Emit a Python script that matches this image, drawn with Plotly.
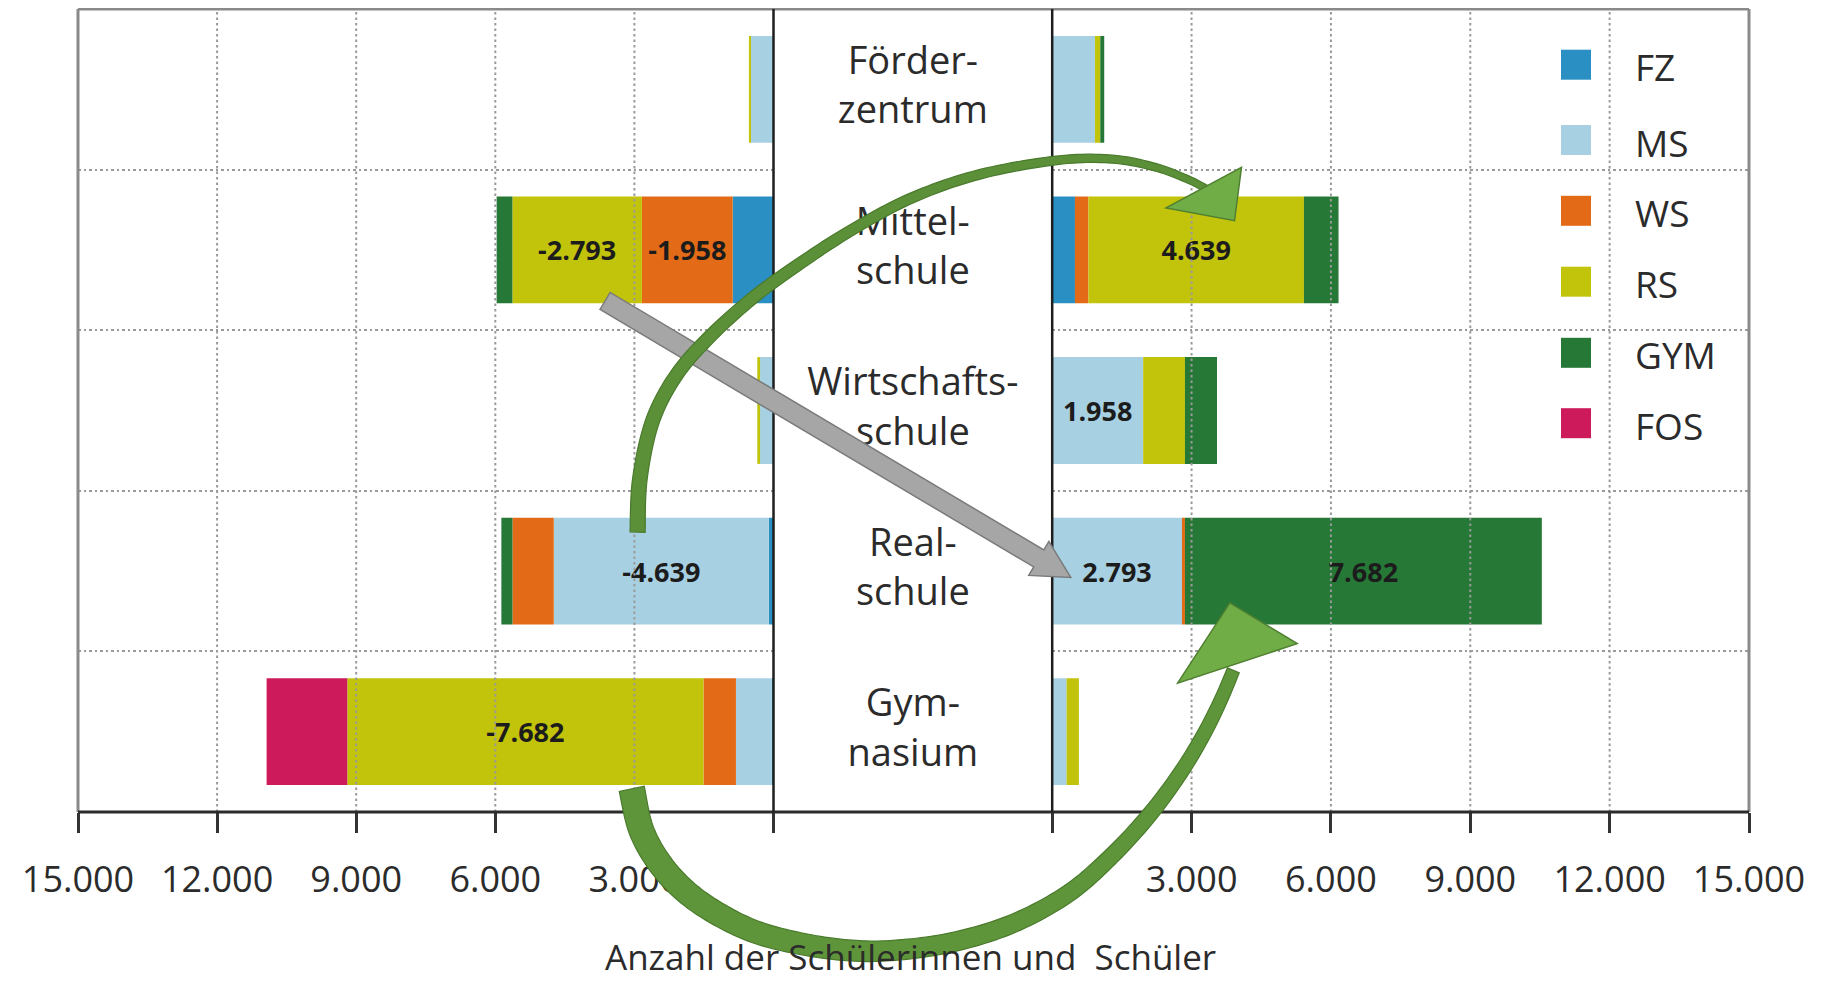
import math
import plotly.graph_objects as go

# ---------------- data ----------------
categories = ["Förderzentrum", "Mittelschule", "Wirtschaftsschule", "Realschule", "Gymnasium"]
category_labels = ["Förder-<br>zentrum", "Mittel-<br>schule", "Wirtschafts-<br>schule", "Real-<br>schule", "Gym-<br>nasium"]
series = ["FZ", "MS", "WS", "RS", "GYM", "FOS"]
series_colors = ["#2a90c4", "#a7d1e2", "#e36a17", "#c2c30b", "#267836", "#cc1a5b"]

# outflows (left panel, negative)
out_FZ = [0, -880, 0, -100, -40]
out_MS = [-500, 0, -290, -4639, -770]
out_WS = [0, -1958, 0, -890, -700]
out_RS = [-30, -2793, -60, 0, -7682]
out_GYM = [0, -340, 0, -240, 0]
out_FOS = [0, 0, 0, 0, -1740]

# inflows (right panel, positive)
in_FZ = [0, 490, 0, 0, 0]
in_MS = [920, 0, 1958, 2793, 310]
in_WS = [0, 290, 0, 65, 0]
in_RS = [115, 4639, 900, 0, 265]
in_GYM = [85, 745, 690, 7682, 0]
in_FOS = [0, 0, 0, 0, 0]

labelled_out = {("Mittelschule", "WS"), ("Mittelschule", "RS"), ("Realschule", "MS"), ("Gymnasium", "RS")}
labelled_in = {("Mittelschule", "RS"), ("Wirtschaftsschule", "MS"), ("Realschule", "MS"), ("Realschule", "GYM")}

tick_vals = [0, 3000, 6000, 9000, 12000, 15000]
tick_text = ["", "3.000", "6.000", "9.000", "12.000", "15.000"]
axis_title = "Anzahl der Schülerinnen und  Schüler"

out_values = [out_FZ, out_MS, out_WS, out_RS, out_GYM, out_FOS]
in_values = [in_FZ, in_MS, in_WS, in_RS, in_GYM, in_FOS]

# ---------------- layout geometry ----------------
BODY = 8                     # default page margin around the plot div
FW, FH = 1821 - 2 * BODY, 991 - 2 * BODY
# plot area in page pixels
P_L, P_R, P_T, P_B = 78, 1749, 9, 812
ML, MT = P_L - BODY, P_T - BODY
MR, MB = FW - (P_R - BODY), FH - (P_B - BODY)
PW, PH = P_R - P_L, P_B - P_T
LEFT_END = (773.5 - P_L) / PW
RIGHT_START = (1052.2 - P_L) / PW
SX, SY = 1821 / 1568, 991 / 853


def to_paper(x, y):
    return ((x - P_L) / PW, 1 - (y - P_T) / PH)


def m2p(pt):
    # shrunk reference picture coordinates -> paper coordinates
    return to_paper(pt[0] * SX, pt[1] * SY)


def de(v):
    return f"{v:,}".replace(",", ".")


FONT = "Open Sans"
TXT = "#2b2b2b"

fig = go.Figure()

for name, col, vals in zip(series, series_colors, out_values):
    fig.add_trace(go.Bar(
        y=categories, x=vals, orientation="h", name=name,
        marker=dict(color=col, line=dict(width=0)),
        text=[de(v) if (c, name) in labelled_out else "" for c, v in zip(categories, vals)],
        textposition="inside", insidetextanchor="middle", textangle=0, constraintext="none",
        textfont=dict(family=FONT, size=27, color="#1c1c1c", weight=700),
        xaxis="x", yaxis="y", showlegend=False, hoverinfo="x+y+name",
    ))

for name, col, vals in zip(series, series_colors, in_values):
    fig.add_trace(go.Bar(
        y=categories, x=vals, orientation="h", name=name,
        marker=dict(color=col, line=dict(width=0)),
        text=[de(v) if (c, name) in labelled_in else "" for c, v in zip(categories, vals)],
        textposition="inside", insidetextanchor="middle", textangle=0, constraintext="none",
        textfont=dict(family=FONT, size=27, color="#1c1c1c", weight=700),
        xaxis="x2", yaxis="y2", showlegend=False, hoverinfo="x+y+name",
    ))

# category names in the middle column
fig.add_trace(go.Scatter(
    x=[0.5] * len(categories), y=categories, mode="text", text=category_labels,
    textposition="middle center", textfont=dict(family=FONT, size=38, color=TXT),
    xaxis="x3", yaxis="y3", showlegend=False, hoverinfo="skip", cliponaxis=False,
))

GRID = "#9a9a9a"
DASH = "2.5px,3px"

xcommon = dict(ticks="outside", ticklen=20, tickwidth=2.5, tickcolor="#333",
               showgrid=False, zeroline=False, showline=False,
               tickfont=dict(family=FONT, size=36, color=TXT), ticklabelstandoff=16)
ycommon = dict(type="category", categoryorder="array", categoryarray=categories,
               autorange="reversed", showticklabels=False, ticks="", tickson="boundaries",
               showgrid=True, gridcolor=GRID, gridwidth=2, griddash=DASH, zeroline=False, showline=False)

fig.update_layout(
    width=FW, height=FH,
    margin=dict(l=ML, r=MR, t=MT, b=MB),
    paper_bgcolor="white", plot_bgcolor="white",
    barmode="relative", bargap=0.335,
    showlegend=False,
    font=dict(family=FONT, color=TXT),
    xaxis=dict(domain=[0, LEFT_END], range=[-15000, 0], anchor="y",
               tickvals=[-v for v in tick_vals], ticktext=tick_text, **xcommon),
    xaxis2=dict(domain=[RIGHT_START, 1], range=[0, 15000], anchor="y2",
                tickvals=tick_vals, ticktext=tick_text, **xcommon),
    xaxis3=dict(domain=[LEFT_END, RIGHT_START], range=[0, 1], anchor="y3", visible=False),
    yaxis=dict(domain=[0, 1], anchor="x", **ycommon),
    yaxis2=dict(domain=[0, 1], anchor="x2", matches="y", **ycommon),
    yaxis3=dict(domain=[0, 1], anchor="x3", matches="y", type="category", categoryorder="array",
                categoryarray=categories, autorange="reversed", visible=False),
)

shapes = []
# vertical dotted gridlines drawn over the bars
for v in tick_vals[1:-1]:
    shapes.append(dict(type="line", xref="x", yref="paper", x0=-v, x1=-v, y0=0, y1=1,
                       line=dict(color=GRID, width=2, dash=DASH), layer="above"))
    shapes.append(dict(type="line", xref="x2", yref="paper", x0=v, x1=v, y0=0, y1=1,
                       line=dict(color=GRID, width=2, dash=DASH), layer="above"))
# frame
FRAME = "#8a8a8a"
shapes += [
    dict(type="line", xref="paper", yref="paper", x0=0, x1=1, y0=1, y1=1, line=dict(color=FRAME, width=3), layer="above"),
    dict(type="line", xref="paper", yref="paper", x0=0, x1=0, y0=0, y1=1, line=dict(color=FRAME, width=3), layer="above"),
    dict(type="line", xref="paper", yref="paper", x0=1, x1=1, y0=0, y1=1, line=dict(color=FRAME, width=3), layer="above"),
    dict(type="line", xref="paper", yref="paper", x0=0, x1=1, y0=0, y1=0, line=dict(color="#2b2b2b", width=3), layer="above"),
    dict(type="line", xref="paper", yref="paper", x0=LEFT_END, x1=LEFT_END, y0=0, y1=1, line=dict(color="#1e1e1e", width=2.5), layer="above"),
    dict(type="line", xref="paper", yref="paper", x0=RIGHT_START, x1=RIGHT_START, y0=0, y1=1, line=dict(color="#1e1e1e", width=2.5), layer="above"),
]


def path_of(points_paper):
    return "M " + " L ".join(f"{x:.5f},{y:.5f}" for x, y in points_paper) + " Z"


def poly_shape(points_main, fill, line_col, lw=1.5):
    return dict(type="path", xref="paper", yref="paper", path=path_of([m2p(p) for p in points_main]),
                fillcolor=fill, line=dict(color=line_col, width=lw), layer="above")


def catmull(pts, steps=12):
    out = []
    n = len(pts)
    for i in range(n - 1):
        p0 = pts[max(i - 1, 0)]
        p1 = pts[i]
        p2 = pts[i + 1]
        p3 = pts[min(i + 2, n - 1)]
        for s in range(steps):
            t = s / steps
            t2, t3 = t * t, t * t * t
            x = 0.5 * ((2 * p1[0]) + (-p0[0] + p2[0]) * t + (2 * p0[0] - 5 * p1[0] + 4 * p2[0] - p3[0]) * t2 + (-p0[0] + 3 * p1[0] - 3 * p2[0] + p3[0]) * t3)
            y = 0.5 * ((2 * p1[1]) + (-p0[1] + p2[1]) * t + (2 * p0[1] - 5 * p1[1] + 4 * p2[1] - p3[1]) * t2 + (-p0[1] + 3 * p1[1] - 3 * p2[1] + p3[1]) * t3)
            out.append((x, y))
    out.append(pts[-1])
    return out


def tapered(pts, w0, w1):
    c = catmull(pts)
    n = len(c)
    L = [0.0]
    for i in range(1, n):
        L.append(L[-1] + math.dist(c[i], c[i - 1]))
    left, right = [], []
    for i in range(n):
        a = c[max(i - 1, 0)]
        b = c[min(i + 1, n - 1)]
        dx, dy = b[0] - a[0], b[1] - a[1]
        d = math.hypot(dx, dy) or 1
        nx, ny = -dy / d, dx / d
        w = (w0 + (w1 - w0) * L[i] / L[-1]) / 2
        left.append((c[i][0] + nx * w, c[i][1] + ny * w))
        right.append((c[i][0] - nx * w, c[i][1] - ny * w))
    return left + right[::-1]


# gray straight arrow (Mittelschule -> Realschule)
T = (521, 259)
TIP = (922, 497)
dx, dy = TIP[0] - T[0], TIP[1] - T[1]
ln = math.hypot(dx, dy)
ux, uy = dx / ln, dy / ln
nx, ny = -uy, ux
hw, hh, hl = 8.5, 17, 32
B = (TIP[0] - ux * hl, TIP[1] - uy * hl)
gray_pts = [
    (T[0] + nx * hw, T[1] + ny * hw), (B[0] + nx * hw, B[1] + ny * hw), (B[0] + nx * hh, B[1] + ny * hh),
    TIP, (B[0] - nx * hh, B[1] - ny * hh), (B[0] - nx * hw, B[1] - ny * hw), (T[0] - nx * hw, T[1] - ny * hw),
]
shapes.append(poly_shape(gray_pts, "#a6a6a6", "#7a7a7a", 1.5))

# green curved arrow: Realschule (left) -> Mittelschule (right)
top_curve = [(549, 458), (551, 412), (562, 362), (583, 322), (613, 288), (650, 255), (690, 226),
             (735, 197), (786, 170), (844, 150), (910, 138), (958, 137), (995, 144), (1022, 154), (1038, 162)]
shapes.append(poly_shape(tapered(top_curve, 13, 6), "#5b8f38", "#4a7a2c", 1.2))
shapes.append(poly_shape([(1004, 179), (1069, 144), (1063, 190)], "#70ad47", "#4f7f30", 1.5))

# green curved arrow: Gymnasium (left) -> Realschule (right)
bot_curve = [(544, 679), (552, 714), (568, 743), (590, 767), (617, 786), (650, 802), (688, 812), (730, 818),
             (770, 818), (820, 811), (872, 795), (920, 769), (958, 736), (990, 701), (1016, 666),
             (1036, 633), (1051, 603), (1062, 577)]
shapes.append(poly_shape(tapered(bot_curve, 22, 11), "#5f953a", "#4a7a2c", 1.2))
shapes.append(poly_shape([(1014, 588), (1059, 519), (1117, 554)], "#70ad47", "#4f7f30", 1.5))

# legend (manual, large keys)
annotations = []
leg_centers = [64.7, 140, 210.8, 281.7, 352.8, 423.2]
for name, col, cy in zip(series, series_colors, leg_centers):
    x0, y0 = to_paper(1561, cy - 15)
    x1, y1 = to_paper(1591, cy + 15)
    shapes.append(dict(type="rect", xref="paper", yref="paper", x0=x0, x1=x1, y0=y1, y1=y0,
                       fillcolor=col, line=dict(width=0), layer="above"))
    tx, ty = to_paper(1633, cy + 2)
    annotations.append(dict(xref="paper", yref="paper", x=tx, y=ty, text=name, showarrow=False,
                            xanchor="left", yanchor="middle", font=dict(family=FONT, size=37, color=TXT)))

# axis title: keep its box inside the visible page (bottom edge at page y = 981)
ax, ay = to_paper(910, 981)
annotations.append(dict(xref="paper", yref="paper", x=ax, y=ay, text=axis_title, showarrow=False,
                        xanchor="center", yanchor="bottom", borderpad=0,
                        font=dict(family=FONT, size=35, color=TXT)))

fig.update_layout(shapes=shapes, annotations=annotations)

fig.write_html("out.html", config={"displayModeBar": False})
